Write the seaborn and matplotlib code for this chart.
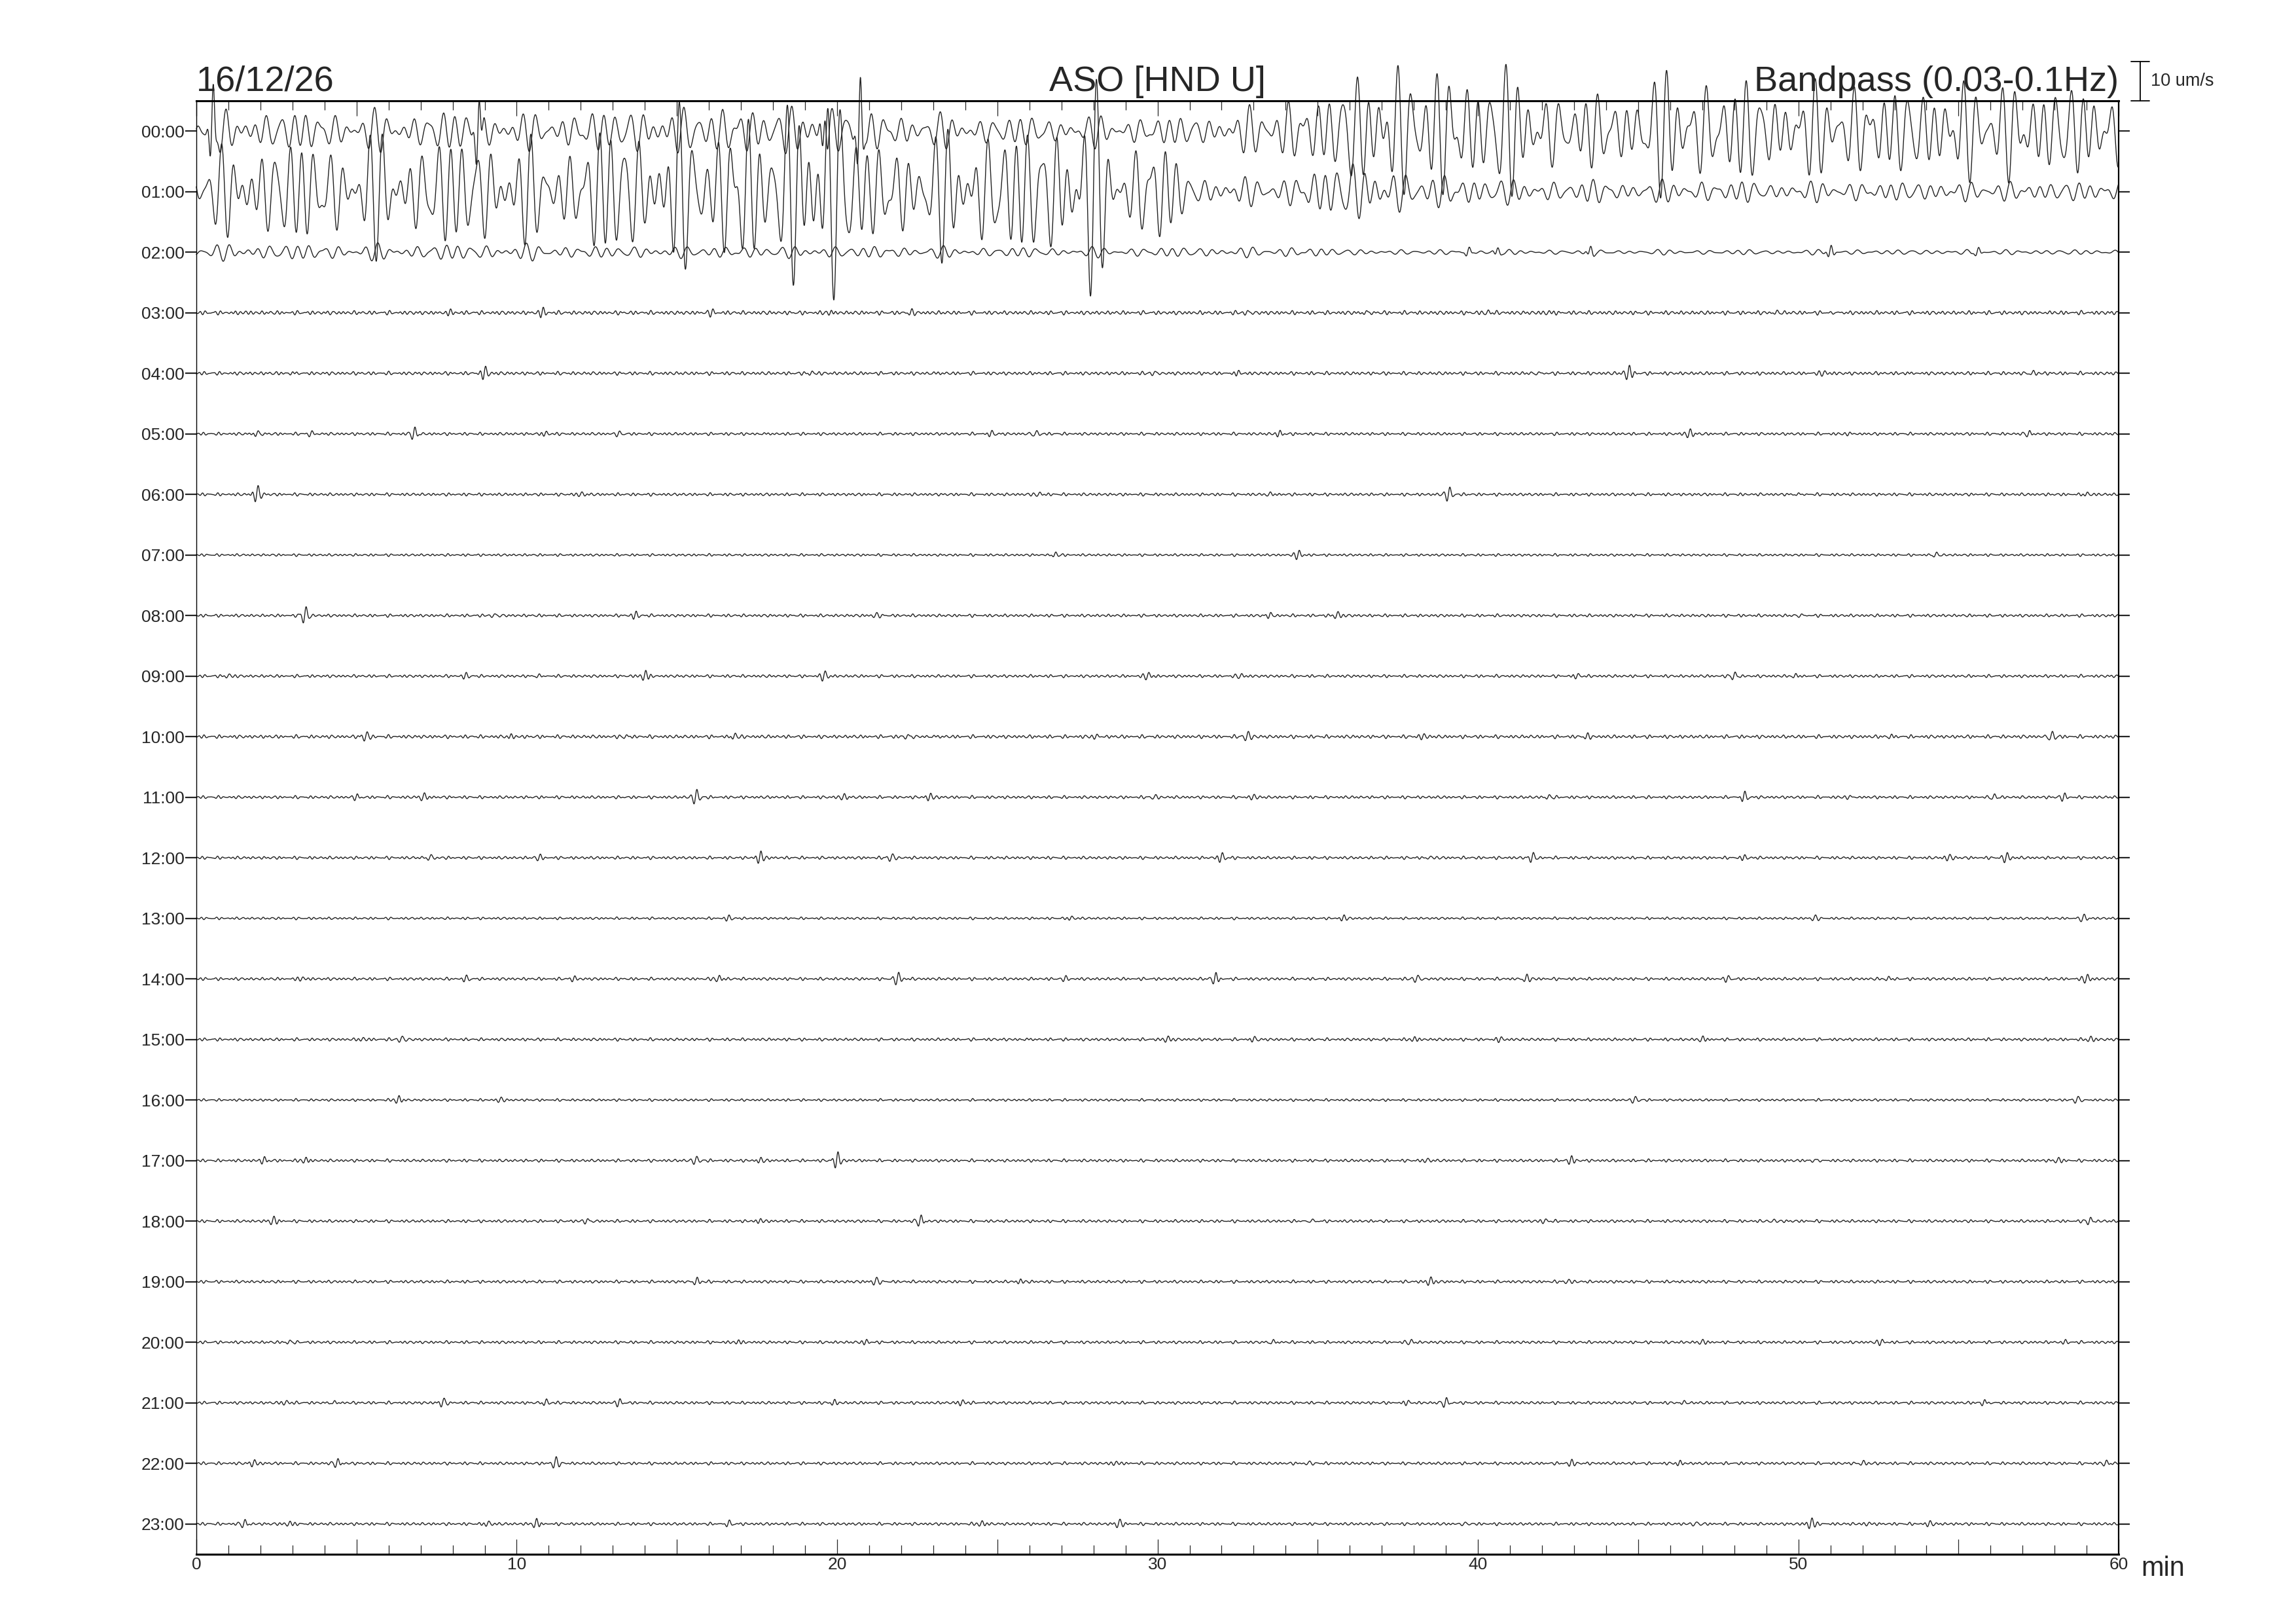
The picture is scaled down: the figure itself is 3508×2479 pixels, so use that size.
import numpy as np
import pandas as pd
import matplotlib
matplotlib.use("Agg")
import matplotlib.pyplot as plt
from matplotlib.ticker import MultipleLocator, FuncFormatter
import seaborn as sns

# --- texts
date_label = "16/12/26"
station_label = "ASO [HND U]"
filter_label = "Bandpass (0.03-0.1Hz)"
scale_label = "10 um/s"
scale_value = 10.0          # um/s, length of the scale bar
x_unit = "min"

hour_labels = ["00:00", "01:00", "02:00", "03:00", "04:00", "05:00",
               "06:00", "07:00", "08:00", "09:00", "10:00", "11:00",
               "12:00", "13:00", "14:00", "15:00", "16:00", "17:00",
               "18:00", "19:00", "20:00", "21:00", "22:00", "23:00"]
x_ticklabels = [0, 10, 20, 30, 40, 50, 60]

# --- envelope of the big wave train (um/s), read per minute 0..60
env_minutes = list(range(61))
env_00 = [4.5, 4, 4, 4, 4, 4, 4, 4, 4, 4, 3.5, 3.5, 4, 4.5, 4.5, 4.5, 5, 5, 4.5, 5,
          5, 4, 3.5, 3.5, 3, 3, 3, 3, 3, 3, 3, 3, 3, 5, 6.5, 7, 11, 14, 13.5, 12.5,
          13, 13, 9, 7, 7.5, 11, 12, 11.5, 10, 10, 9, 9.5, 10, 9, 9, 10.5, 10, 10, 10, 9, 8]
env_01 = [7, 9, 10, 11, 10, 11, 12, 11, 11, 12, 10, 10, 9, 17, 10, 18, 10, 19, 12, 23,
          24, 9, 11, 12, 13, 14, 12, 19, 20, 9, 13, 3, 2.8, 2.8, 2.8, 5, 6.5, 5, 3.5, 3.3,
          3.3, 2.5, 2.2, 2.2, 2.4, 2.2, 2.2, 2.4, 2.2, 2, 2, 2, 2, 2, 2, 2, 2, 2, 2, 2, 2]
env_02 = [1.6, 1.6, 1.6, 1.6, 1.6, 1.6, 1.6, 1.6, 1.6, 1.6, 1.6, 1.6, 1.2, 1.2, 1.2, 1.2, 1.2, 1.2, 1.2, 1.2,
          1.2, 1.2, 1.2, 1.2, 1.0, 1.0, 1.0, 1.0, 1.0, 1.0, 1.0, 1.0, 1.0, 1.0, 1.0, 1.0, 0.6, 0.5, 0.5, 0.5,
          0.5, 0.5, 0.5, 0.5, 0.5, 0.5, 0.5, 0.5, 0.5, 0.5, 0.5, 0.5, 0.5, 0.5, 0.5, 0.5, 0.5, 0.5, 0.5, 0.5, 0.5]

# --- background noise level per hour (um/s)
noise_level = [0, 0, 0, 0.4, 0.35, 0.3, 0.3, 0.25, 0.3, 0.3, 0.35, 0.3,
               0.3, 0.25, 0.3, 0.3, 0.25, 0.3, 0.3, 0.3, 0.3, 0.3, 0.3, 0.3]

# --- local events: (minute, peak amplitude um/s)
events_00 = [(0.5, 9.0), (8.8, 8.5), (19.6, 6.0), (20.7, 11.0)]
events_01 = []
events_02 = [(39.7, 1.0), (40.6, 1.0), (43.5, 1.3), (51.0, 1.7), (55.6, 1.0)]
events_03 = [(1.5, 0.6), (7.9, 1.0), (10.8, 1.2), (16.1, 0.7), (19.8, 0.6), (22.3, 0.6), (32.8, 0.9),
             (36.5, 0.8), (40.3, 0.6), (42.2, 0.7), (49.3, 0.7), (51.2, 0.6), (57.8, 0.7)]
events_04 = [(3.0, 0.6), (9.0, 1.8), (19.2, 0.7), (23.0, 0.6), (29.9, 0.9), (32.5, 0.9), (41.9, 0.6),
             (44.7, 1.9), (50.8, 0.7), (53.4, 0.6), (57.3, 0.7)]
events_05 = [(1.9, 0.9), (3.6, 0.9), (6.8, 1.6), (10.9, 0.6), (13.2, 0.6), (17.7, 0.6), (24.8, 0.7),
             (26.2, 0.9), (33.8, 0.7), (46.6, 1.1), (51.6, 0.7), (57.2, 0.7)]
events_06 = [(1.9, 2.3), (12.0, 0.5), (26.3, 0.8), (33.5, 0.9), (39.1, 2.1), (50.0, 0.6), (59.0, 0.7)]
events_07 = [(26.8, 0.8), (34.4, 1.3), (54.3, 0.8)]
events_08 = [(3.4, 2.4), (9.3, 0.6), (13.7, 0.9), (21.2, 0.6), (33.5, 0.8), (35.6, 1.1), (50.1, 0.6)]
events_09 = [(1.0, 0.7), (8.4, 0.6), (10.7, 0.6), (14.0, 1.5), (19.6, 1.2), (29.7, 1.0), (32.6, 0.6),
             (43.1, 0.6), (48.0, 1.1), (49.9, 0.9)]
events_10 = [(5.3, 1.2), (9.8, 0.6), (13.4, 0.6), (16.8, 1.1), (22.2, 0.6), (23.0, 0.6), (28.1, 0.9),
             (32.8, 1.5), (38.3, 0.6), (43.4, 0.6), (52.9, 0.6), (57.9, 1.4)]
events_11 = [(5.0, 0.6), (7.1, 1.2), (15.6, 2.2), (20.2, 0.7), (22.9, 0.9), (29.9, 0.6), (33.0, 0.6),
             (42.2, 0.6), (48.3, 1.6), (51.6, 0.8), (56.1, 0.8), (58.3, 1.0)]
events_12 = [(7.3, 1.1), (10.7, 0.7), (17.6, 1.7), (21.7, 1.2), (32.0, 1.2), (38.5, 0.7), (41.7, 1.5),
             (48.3, 0.6), (54.7, 0.8), (56.5, 1.3)]
events_13 = [(16.6, 0.6), (27.3, 0.6), (35.8, 0.7), (50.5, 0.7), (58.9, 1.1)]
events_14 = [(3.3, 0.6), (8.4, 0.7), (11.8, 0.6), (16.3, 1.0), (21.9, 1.8), (27.1, 0.8), (31.8, 1.4),
             (38.1, 1.3), (41.5, 1.2), (47.8, 0.6), (52.8, 0.8), (59.0, 1.2)]
events_15 = [(5.2, 0.5), (6.4, 1.1), (25.9, 0.6), (30.3, 0.9), (33.0, 0.6), (38.0, 0.7), (40.7, 0.6),
             (47.0, 1.1), (59.1, 0.8)]
events_16 = [(6.3, 1.1), (9.5, 0.6), (44.9, 1.0), (58.7, 1.1)]
events_17 = [(2.1, 0.8), (3.4, 0.9), (15.6, 1.3), (17.6, 0.6), (20.0, 2.1), (38.4, 0.5), (42.9, 1.0),
             (50.5, 0.6), (58.1, 0.6)]
events_18 = [(2.4, 1.1), (12.2, 0.7), (17.6, 0.6), (22.6, 1.5), (34.8, 0.8), (42.1, 0.6), (49.2, 0.6),
             (59.1, 1.1)]
events_19 = [(15.6, 1.2), (21.2, 1.1), (25.7, 0.6), (38.5, 1.3), (42.8, 0.6)]
events_20 = [(2.9, 0.6), (16.9, 0.6), (20.9, 0.6), (33.6, 0.8), (37.9, 0.6), (47.0, 0.7), (52.6, 0.8),
             (58.3, 0.6)]
events_21 = [(2.8, 0.6), (4.3, 0.7), (7.7, 1.2), (10.9, 1.0), (13.2, 0.8), (19.9, 0.6), (23.9, 0.8),
             (37.8, 0.6), (39.0, 1.3), (46.4, 0.7), (55.8, 1.0)]
events_22 = [(1.8, 0.8), (4.4, 1.1), (11.2, 1.6), (28.7, 0.7), (34.7, 0.7), (42.9, 0.8), (46.3, 0.7),
             (52.0, 0.8), (59.6, 0.6)]
events_23 = [(1.5, 1.0), (2.9, 0.7), (9.1, 0.8), (10.6, 1.4), (16.6, 1.0), (24.5, 0.8), (28.8, 1.0),
             (39.6, 0.6), (46.8, 0.6), (50.4, 1.6), (52.2, 0.6), (54.1, 0.6)]

envelopes = [env_00, env_01, env_02]
events = [events_00, events_01, events_02, events_03, events_04, events_05, events_06, events_07,
          events_08, events_09, events_10, events_11, events_12, events_13, events_14, events_15,
          events_16, events_17, events_18, events_19, events_20, events_21, events_22, events_23]

gain = 0.065   # rows per um/s (10 um/s bar = 0.65 row spacing)

# waveform shapes (drawing only)
long_periods = [0.42, 0.31, 0.57, 0.36]
short_periods = [0.16, 0.22, 0.12, 0.29]
weights = [1.0, 0.7, 0.5, 0.4]


def texture(t, periods, shift):
    s = sum(w * np.sin(2 * np.pi * t / p + 1.7 * k + shift)
            for k, (p, w) in enumerate(zip(periods, weights)))
    return s / 1.7


def wavelet(t, t0, amp):
    return amp * np.exp(-((t - t0) / 0.12) ** 2) * np.sin(2 * np.pi * (t - t0) / 0.2 + 0.6)


t = np.linspace(0, 60, 7201)
frames = []
for h in range(24):
    if h < 3:
        v = np.interp(t, env_minutes, envelopes[h]) * texture(t, long_periods, 2.3 * h)
    else:
        v = noise_level[h] * texture(t, short_periods, 1.1 * h)
    for m, a in events[h]:
        v = v + wavelet(t, m, a)
    frames.append(pd.DataFrame({"hour": h, "minute": t, "y": h - v * gain}))
df = pd.concat(frames, ignore_index=True)

# --- plot
sns.set_style("white")
plt.rcParams["font.family"] = ["Liberation Sans", "DejaVu Sans"]

fig = plt.figure(figsize=(35.08, 24.79), dpi=100)
ax = fig.add_axes([0.0855, 0.0424, 0.8373, 0.8955])

sns.lineplot(data=df, x="minute", y="y", units="hour", estimator=None,
             color="#222222", linewidth=1.0, ax=ax, legend=False)
for ln in ax.lines:
    ln.set_clip_on(False)

ax.set_xlim(0, 60)
ax.set_ylim(23.5, -0.5)
ax.set_xlabel("")
ax.set_ylabel("")

ax.set_yticks(range(24))
ax.set_yticklabels(hour_labels)
ax.tick_params(axis="y", left=True, right=True, direction="out", length=12,
               width=1.6, labelsize=19, pad=1)

ax.xaxis.set_major_locator(MultipleLocator(5))
ax.xaxis.set_minor_locator(MultipleLocator(1))
ax.xaxis.set_major_formatter(FuncFormatter(
    lambda v, _: f"{int(round(v))}" if int(round(v)) in x_ticklabels else ""))
ax.tick_params(axis="x", which="major", direction="in", top=True, bottom=True,
               length=16.5, width=0.9, labelsize=19, pad=3)
ax.tick_params(axis="x", which="minor", direction="in", top=True, bottom=True,
               length=10, width=0.9)

for side, lw in [("top", 2.2), ("bottom", 2.2), ("left", 1.0), ("right", 1.6)]:
    ax.spines[side].set_visible(True)
    ax.spines[side].set_linewidth(lw)
    ax.spines[side].set_color("black")

# header
ty = 1 + 15 / 2220
ax.text(0, ty, date_label, transform=ax.transAxes, ha="left", va="baseline", fontsize=39)
ax.text(0.5, ty, station_label, transform=ax.transAxes, ha="center", va="baseline", fontsize=39)
ax.text(1.0, ty, filter_label, transform=ax.transAxes, ha="right", va="baseline", fontsize=39)

# scale bar
bx = 60.67
y0, y1 = -0.5, -0.5 - scale_value * gain
ax.plot([bx, bx], [y0, y1], color="black", lw=1.3, clip_on=False)
ax.plot([bx - 0.29, bx + 0.29], [y0, y0], color="black", lw=1.3, clip_on=False)
ax.plot([bx - 0.29, bx + 0.29], [y1, y1], color="black", lw=1.3, clip_on=False)
ax.text(61.0, (y0 + y1) / 2, scale_label, ha="left", va="center", fontsize=19.5, clip_on=False)

ax.text(60.7, 23.86, x_unit, ha="left", va="baseline", fontsize=30, clip_on=False)

fig.savefig("out.png", dpi=100)
plt.close(fig)
